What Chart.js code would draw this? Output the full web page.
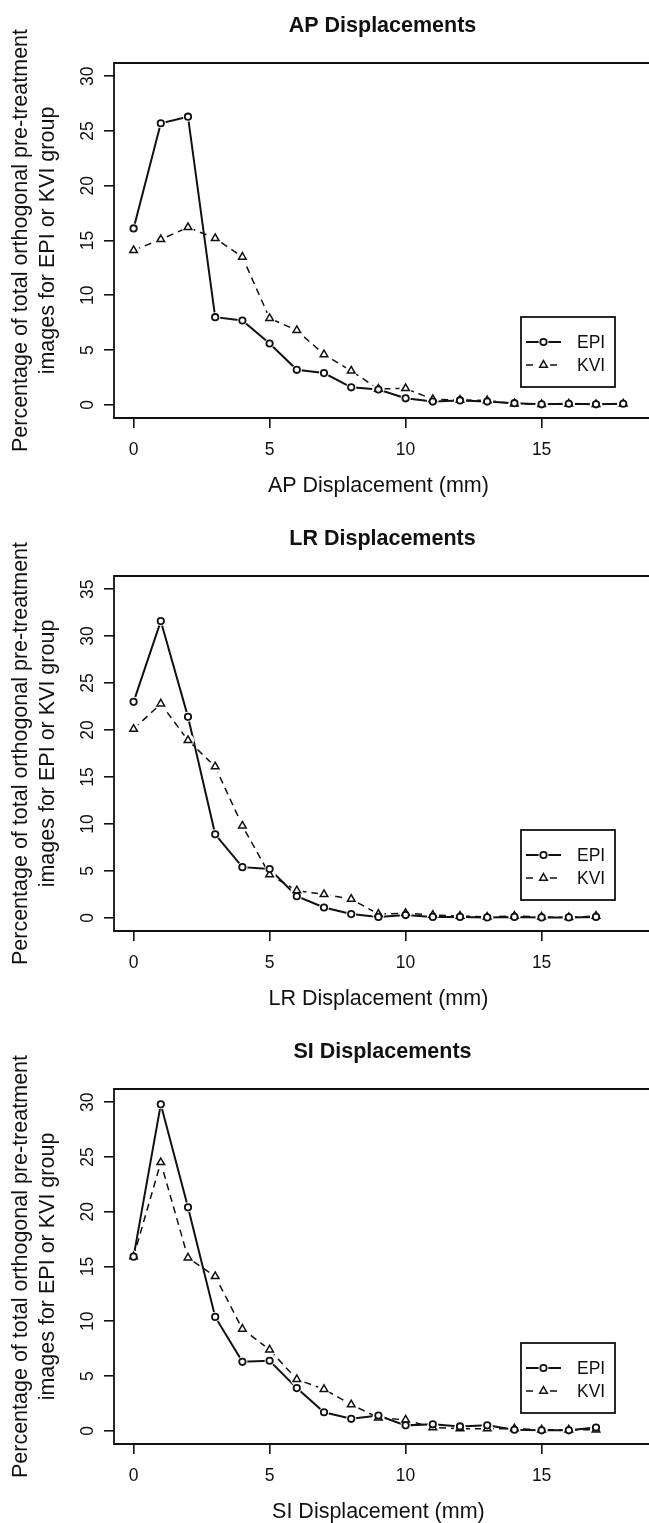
<!DOCTYPE html>
<html>
<head>
<meta charset="utf-8">
<title>AP / LR / SI Displacements</title>
<script src="https://cdn.jsdelivr.net/npm/chart.js@4.4.1/dist/chart.umd.min.js"></script>
<style>
    html, body { margin: 0; padding: 0; background: #fff; overflow: hidden; }
    canvas { display: block; }
</style>
</head>
<body>
<canvas id="apChart" width="649" height="513"></canvas>
<canvas id="lrChart" width="649" height="513"></canvas>
<canvas id="siChart" width="649" height="513"></canvas>
<script>
// Displacement bins (mm)
const apDisp = [0, 1, 2, 3, 4, 5, 6, 7, 8, 9, 10, 11, 12, 13, 14, 15, 16, 17, 18];
const lrDisp = [0, 1, 2, 3, 4, 5, 6, 7, 8, 9, 10, 11, 12, 13, 14, 15, 16, 17];
const siDisp = [0, 1, 2, 3, 4, 5, 6, 7, 8, 9, 10, 11, 12, 13, 14, 15, 16, 17];

// Percentage of images per bin
const apEpi = [16.1, 25.7, 26.3, 8.0, 7.7, 5.6, 3.2, 2.9, 1.6, 1.4, 0.6, 0.3, 0.4, 0.3, 0.15, 0.05, 0.1, 0.05, 0.1];
const apKvi = [14.1, 15.1, 16.2, 15.2, 13.5, 7.9, 6.8, 4.6, 3.1, 1.45, 1.5, 0.5, 0.45, 0.4, 0.1, 0.05, 0.1, 0.05, 0.1];
const lrEpi = [23.0, 31.6, 21.4, 8.9, 5.4, 5.2, 2.3, 1.1, 0.4, 0.1, 0.3, 0.1, 0.1, 0.05, 0.1, 0.05, 0.05, 0.1];
const lrKvi = [20.1, 22.8, 18.9, 16.1, 9.8, 4.6, 2.9, 2.5, 2.0, 0.4, 0.5, 0.3, 0.2, 0.1, 0.2, 0.1, 0.05, 0.2];
const siEpi = [15.9, 29.8, 20.4, 10.4, 6.3, 6.4, 3.9, 1.7, 1.1, 1.4, 0.5, 0.6, 0.4, 0.5, 0.1, 0.05, 0.05, 0.3];
const siKvi = [15.9, 24.5, 15.8, 14.1, 9.3, 7.4, 4.7, 3.8, 2.4, 1.2, 1.0, 0.3, 0.2, 0.2, 0.2, 0.1, 0.1, 0.1];

// Tick labels
const xTicks = [0, 5, 10, 15];
const apYTicks = [0, 5, 10, 15, 20, 25, 30];
const lrYTicks = [0, 5, 10, 15, 20, 25, 30, 35];
const siYTicks = [0, 5, 10, 15, 20, 25, 30];

const seriesNames = ['EPI', 'KVI'];
const yTitle = ['Percentage of total orthogonal pre-treatment', 'images for EPI or KVI group'];

const FONT = '"Liberation Sans", Arial, Helvetica, sans-serif';
const INK = '#111';

// line / symbol look of each series (R type="b")
const seriesStyle = [
    { dash: [], lineWidth: 2, symbol: 'circle', radius: 3.2, symbolWidth: 1.8 },
    { dash: [7, 5], lineWidth: 1.5, symbol: 'triangle', radius: 4.4, symbolWidth: 1.5 }
];

// Frame (right side falls off the page, as in the source), main title and inset legend
const framePlugin = {
    id: 'rFrame',
    afterDraw(chart, args, opts) {
        const { ctx, chartArea: a, width } = chart;
        ctx.save();

        ctx.strokeStyle = INK;
        ctx.lineWidth = 1.8;
        ctx.beginPath();
        ctx.moveTo(width + 2, a.top);
        ctx.lineTo(a.left, a.top);
        ctx.lineTo(a.left, a.bottom);
        ctx.lineTo(width + 2, a.bottom);
        ctx.stroke();

        // main title
        ctx.fillStyle = INK;
        ctx.font = 'bold 21.5px ' + FONT;
        ctx.textAlign = 'center';
        ctx.textBaseline = 'middle';
        ctx.fillText(opts.title, (a.left + 651) / 2, 26);

        // legend
        const lx = 521, ly = a.bottom - 101;
        ctx.lineWidth = 1.8;
        ctx.strokeRect(lx, ly, 94, 70);
        ctx.font = '17.5px ' + FONT;
        ctx.textAlign = 'left';
        seriesStyle.forEach((st, i) => {
            const y = ly + 25 + i * 23;
            ctx.setLineDash(st.dash);
            ctx.lineWidth = st.lineWidth;
            ctx.beginPath();
            ctx.moveTo(lx + 5, y);
            ctx.lineTo(lx + 40, y);
            ctx.stroke();
            ctx.setLineDash([]);
            ctx.fillStyle = '#fff';
            Chart.helpers.drawPoint(ctx, { pointStyle: 'circle', radius: st.radius + 1.8, borderWidth: 0, rotation: 0 }, lx + 22.5, y);
            ctx.lineWidth = st.symbolWidth;
            Chart.helpers.drawPoint(ctx, { pointStyle: st.symbol, radius: st.radius, borderWidth: st.symbolWidth, rotation: 0 }, lx + 22.5, y);
            ctx.fillStyle = INK;
            ctx.fillText(seriesNames[i], lx + 56, y + 1);
        });

        ctx.restore();
    }
};

function makePoints(xs, ys) {
    return xs.map((x, i) => ({ x: x, y: ys[i] }));
}

// each series = line layer, white gap layer, symbol layer
function buildDatasets(xs, seriesValues) {
    const sets = [];
    seriesValues.forEach((values, i) => {
        const st = seriesStyle[i];
        const pts = makePoints(xs, values);
        sets.push({
            label: seriesNames[i] + ' line', data: pts, order: 3,
            borderColor: INK, borderWidth: st.lineWidth, borderDash: st.dash,
            pointRadius: 0, tension: 0
        });
        sets.push({
            label: seriesNames[i] + ' gap', data: pts, order: 2, showLine: false,
            pointStyle: 'circle', pointRadius: st.radius + 1.8, pointBorderWidth: 0,
            pointBackgroundColor: '#fff', pointBorderColor: '#fff'
        });
        sets.push({
            label: seriesNames[i], data: pts, order: 1, showLine: false,
            pointStyle: st.symbol, pointRadius: st.radius, pointBorderWidth: st.symbolWidth,
            pointBackgroundColor: '#fff', pointBorderColor: INK
        });
    });
    return sets;
}

function createPanel(canvasId, title, xLabel, xs, epi, kvi, yTicks, yMax) {
    const ctx = document.getElementById(canvasId);
    const pad = yMax * 0.04;

    return new Chart(ctx, {
        type: 'line',
        data: { datasets: buildDatasets(xs, [epi, kvi]) },
        options: {
            responsive: false,
            animation: false,
            layout: { padding: { top: 63, right: 0, left: 0, bottom: 0 } },
            plugins: {
                legend: { display: false },
                tooltip: { enabled: false },
                rFrame: { title: title }
            },
            scales: {
                x: {
                    type: 'linear',
                    min: -0.72,
                    max: 18.72,
                    afterBuildTicks: s => { s.ticks = xTicks.map(v => ({ value: v })); },
                    afterFit: s => { s.height = 95; },
                    grid: { drawOnChartArea: false, drawTicks: true, tickLength: 10, color: INK, lineWidth: 1.6 },
                    border: { display: false },
                    ticks: { color: INK, font: { family: FONT, size: 17.5 }, padding: 12, autoSkip: false, maxRotation: 0 },
                    title: { display: true, text: xLabel, color: INK, font: { family: FONT, size: 21.5 }, padding: { top: 0, bottom: 14 } }
                },
                y: {
                    type: 'linear',
                    min: -pad,
                    max: yMax + pad,
                    afterBuildTicks: s => { s.ticks = yTicks.map(v => ({ value: v })); },
                    afterFit: s => { s.width = 114; },
                    grid: { drawOnChartArea: false, drawTicks: true, tickLength: 10, color: INK, lineWidth: 1.6 },
                    border: { display: false },
                    ticks: {
                        color: INK, font: { family: FONT, size: 17.5 }, padding: 6, autoSkip: false,
                        minRotation: 90, maxRotation: 90, crossAlign: 'center'
                    },
                    title: { display: true, text: yTitle, color: INK, font: { family: FONT, size: 21.5, lineHeight: 1.25 }, padding: { top: 8, bottom: 0 } }
                }
            }
        },
        plugins: [framePlugin]
    });
}

createPanel('apChart', 'AP Displacements', 'AP Displacement (mm)', apDisp, apEpi, apKvi, apYTicks, 30);
createPanel('lrChart', 'LR Displacements', 'LR Displacement (mm)', lrDisp, lrEpi, lrKvi, lrYTicks, 35);
createPanel('siChart', 'SI Displacements', 'SI Displacement (mm)', siDisp, siEpi, siKvi, siYTicks, 30);
</script>
</body>
</html>
